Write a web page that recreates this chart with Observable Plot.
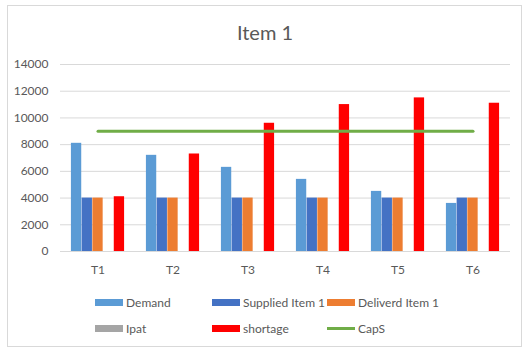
<!DOCTYPE html>
<html>
<head>
<meta charset="utf-8">
<script src="https://cdn.jsdelivr.net/npm/d3@7"></script>
<script src="https://cdn.jsdelivr.net/npm/@observablehq/plot@0.6"></script>
<style>
  html, body { margin: 0; padding: 0; background: #fff; }
  #wrap { position: relative; width: 530px; height: 356px; overflow: hidden; font-family: Lato, "Open Sans", sans-serif; }
  #frame { position: absolute; left: 7px; top: 5px; width: 515px; height: 342px; border: 1px solid #d9d9d9; box-sizing: border-box; }
  #title { position: absolute; left: 0; width: 530px; top: 20px; text-align: center; font-size: 20px; color: #595959; }
  #chart { position: absolute; left: 0; top: 0; }
  .leg { position: absolute; font-size: 12px; color: #595959; display: flex; align-items: center; white-space: nowrap; }
  .sw { width: 28px; height: 7px; margin-right: 3px; }
  .ln { width: 28px; height: 3px; margin-right: 3px; }
</style>
</head>
<body>
<div id="wrap">
  <div id="frame"></div>
  <div id="title">Item 1</div>
  <div id="chart"></div>
  <div id="legend"></div>
</div>
<script>
const periods = ["T1", "T2", "T3", "T4", "T5", "T6"];
const seriesNames = ["Demand", "Supplied Item 1", "Deliverd Item 1", "Ipat", "shortage"];
const seriesColors = ["#5B9BD5", "#4472C4", "#ED7D31", "#A5A5A5", "#FF0000"];
const demand = [8100, 7200, 6300, 5400, 4500, 3600];
const supplied = [4000, 4000, 4000, 4000, 4000, 4000];
const delivered = [4000, 4000, 4000, 4000, 4000, 4000];
const ipat = [0, 0, 0, 0, 0, 0];
const shortage = [4100, 7300, 9600, 11000, 11500, 11100];
const caps = [9000, 9000, 9000, 9000, 9000, 9000];
const capsName = "CapS";
const capsColor = "#70AD47";
const yTicks = [0, 2000, 4000, 6000, 8000, 10000, 12000, 14000];

const seriesValues = [demand, supplied, delivered, ipat, shortage];
const key = (t, s) => t + "|" + s;

// band domain: padding slot, 5 series slots, padding slot per period
const xDomain = periods.flatMap(t => [key(t, "_L"), ...seriesNames.map(s => key(t, s)), key(t, "_R")]);

const bars = [];
seriesNames.forEach((s, si) => {
  periods.forEach((t, ti) => {
    bars.push({key: key(t, s), series: s, value: seriesValues[si][ti]});
  });
});
const capsRows = periods.map((t, i) => ({key: key(t, "Deliverd Item 1"), value: caps[i]}));

const chart = Plot.plot({
  width: 530,
  height: 282,
  marginLeft: 60,
  marginRight: 20,
  marginTop: 64,
  marginBottom: 31,
  style: {fontFamily: "Lato, 'Open Sans', sans-serif", fontSize: "12px", color: "#595959", background: "transparent"},
  x: {
    type: "band",
    domain: xDomain,
    padding: 0,
    round: false,
    tickSize: 0,
    tickPadding: 14,
    label: null,
    tickFormat: d => d.endsWith("|Deliverd Item 1") ? d.split("|")[0] : ""
  },
  y: {
    domain: [0, 14000],
    ticks: yTicks,
    tickSize: 0,
    tickPadding: 12,
    label: null,
    tickFormat: d => String(d)
  },
  color: {domain: seriesNames, range: seriesColors},
  marks: [
    Plot.ruleY(yTicks, {stroke: "#d9d9d9", strokeWidth: 1, strokeOpacity: 1}),
    Plot.barY(bars, {x: "key", y: "value", fill: "series", insetLeft: 0.2, insetRight: 0.2}),
    Plot.lineY(capsRows, {x: "key", y: "value", stroke: capsColor, strokeWidth: 3})
  ]
});
document.getElementById("chart").appendChild(chart);

// legend
const legendItems = [
  {name: seriesNames[0], color: seriesColors[0], type: "sw"},
  {name: seriesNames[1], color: seriesColors[1], type: "sw"},
  {name: seriesNames[2], color: seriesColors[2], type: "sw"},
  {name: seriesNames[3], color: seriesColors[3], type: "sw"},
  {name: seriesNames[4], color: seriesColors[4], type: "sw"},
  {name: capsName, color: capsColor, type: "ln"}
];
const colX = [95, 212, 327];
const rowY = [302, 328];
const legend = document.getElementById("legend");
legendItems.forEach((it, i) => {
  const el = document.createElement("div");
  el.className = "leg";
  el.style.left = colX[i % 3] + "px";
  el.style.top = (rowY[Math.floor(i / 3)] - 8) + "px";
  el.style.height = "16px";
  const sw = document.createElement("div");
  sw.className = it.type;
  sw.style.background = it.color;
  const tx = document.createElement("span");
  tx.textContent = it.name;
  el.appendChild(sw);
  el.appendChild(tx);
  legend.appendChild(el);
});
</script>
</body>
</html>
